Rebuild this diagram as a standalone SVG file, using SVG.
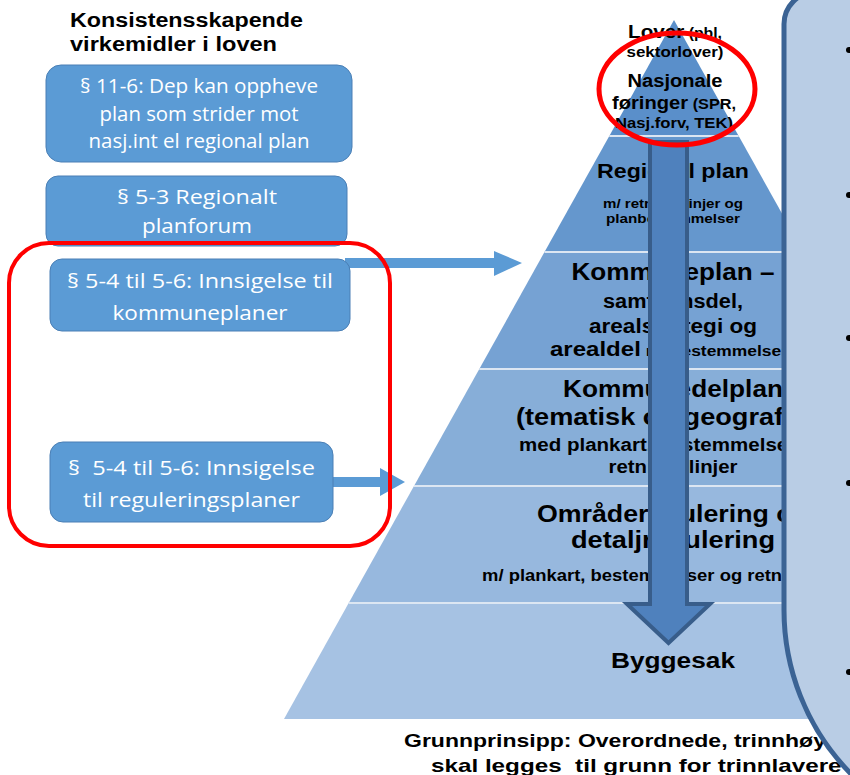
<svg xmlns="http://www.w3.org/2000/svg" width="850" height="775" viewBox="0 0 850 775">
<style>
.pt{font-family:"Liberation Sans",Arial,sans-serif;font-weight:bold;fill:#000;text-anchor:middle}
.ls{font-family:"Liberation Sans",Arial,sans-serif;font-weight:bold;fill:#000}
.bx{font-family:"Open Sans","Liberation Sans",sans-serif;fill:#fff;text-anchor:middle;font-size:20px}
.box{fill:#5b9bd5;stroke:#4a7fb5;stroke-width:1}
.sep{stroke:#dce6f2;stroke-width:2}
.arr{fill:#5b9bd5}
</style>
<rect width="850" height="775" fill="#fff"/>

<g id="pyramid">
<polygon points="674,20 738.7,136 609.3,136" fill="#5a8fca"/>
<polygon points="609.3,136 738.7,136 803.5,252 544.5,252" fill="#6597cd"/>
<polygon points="544.5,252 803.5,252 868.7,369 479.3,369" fill="#76a2d3"/>
<polygon points="479.3,369 868.7,369 934,486 414,486" fill="#87aed8"/>
<polygon points="414,486 934,486 999.3,603 348.7,603" fill="#97b8de"/>
<polygon points="348.7,603 999.3,603 1064,719 284,719" fill="#a6c2e3"/>
<line class="sep" x1="609.3" y1="136" x2="738.7" y2="136"/>
<line class="sep" x1="544.5" y1="252" x2="803.5" y2="252"/>
<line class="sep" x1="479.3" y1="369" x2="868.7" y2="369"/>
<line class="sep" x1="414" y1="486" x2="934" y2="486"/>
<line class="sep" x1="348.7" y1="603" x2="999.3" y2="603"/>
</g>

<g id="level-texts">
<text class="pt" x="675" y="38" textLength="94" lengthAdjust="spacingAndGlyphs"><tspan font-size="19">Lover</tspan><tspan font-size="14.5"> (pbl,</tspan></text>
<text class="pt" x="675" y="57" font-size="15" textLength="97" lengthAdjust="spacingAndGlyphs">sektorlover)</text>
<text class="pt" x="675" y="87" font-size="18" textLength="95" lengthAdjust="spacingAndGlyphs">Nasjonale</text>
<text class="pt" x="674" y="109" textLength="124" lengthAdjust="spacingAndGlyphs"><tspan font-size="18">føringer</tspan><tspan font-size="14.5"> (SPR,</tspan></text>
<text class="pt" x="674" y="128" font-size="15" textLength="118" lengthAdjust="spacingAndGlyphs">Nasj.forv, TEK)</text>

<text class="pt" x="673" y="178" font-size="21" textLength="152" lengthAdjust="spacingAndGlyphs">Regional plan</text>
<text class="pt" x="673" y="208" font-size="13.5" textLength="140" lengthAdjust="spacingAndGlyphs">m/ retningslinjer og</text>
<text class="pt" x="673" y="223" font-size="13.5" textLength="134" lengthAdjust="spacingAndGlyphs">planbestemmelser</text>

<text class="pt" x="673" y="280" font-size="23" textLength="203" lengthAdjust="spacingAndGlyphs">Kommuneplan –</text>
<text class="pt" x="673" y="308" font-size="20" textLength="140" lengthAdjust="spacingAndGlyphs">samfunnsdel,</text>
<text class="pt" x="673" y="333" font-size="20" textLength="168" lengthAdjust="spacingAndGlyphs">arealstrategi og</text>
<text class="ls" x="550" y="356" textLength="238" lengthAdjust="spacingAndGlyphs"><tspan font-size="20">arealdel</tspan><tspan font-size="14.5"> m/ bestemmelser</tspan></text>

<text class="pt" x="673" y="397" font-size="23" textLength="220" lengthAdjust="spacingAndGlyphs">Kommunedelplan</text>
<text class="pt" x="673" y="425" font-size="23" textLength="314" lengthAdjust="spacingAndGlyphs">(tematisk og geografisk)</text>
<text class="pt" x="673" y="451" font-size="17.5" textLength="308" lengthAdjust="spacingAndGlyphs">med plankart, bestemmelser og</text>
<text class="pt" x="673" y="473" font-size="17.5" textLength="129" lengthAdjust="spacingAndGlyphs">retningslinjer</text>

<text class="pt" x="673" y="522" font-size="23.5" textLength="272" lengthAdjust="spacingAndGlyphs">Områderegulering og</text>
<text class="pt" x="673" y="548" font-size="23.5" textLength="204" lengthAdjust="spacingAndGlyphs">detaljregulering</text>
<text class="pt" x="673" y="581" font-size="16" textLength="382" lengthAdjust="spacingAndGlyphs">m/ plankart, bestemmelser og retningslinjer</text>

<text class="pt" x="673" y="668" font-size="22" textLength="124" lengthAdjust="spacingAndGlyphs">Byggesak</text>
</g>

<g id="down-arrow">
<path d="M650,142 L687,142 L687,604 L710,604 L668.5,643 L627,604 L650,604 Z" fill="#4f81bd" stroke="#385d8a" stroke-width="4" stroke-linejoin="miter"/>
</g>

<g id="nasjonale-highlight">
<ellipse cx="677" cy="89" rx="78" ry="56" fill="none" stroke="#ff0000" stroke-width="5"/>
</g>

<g id="footer">
<text class="ls" x="404" y="747" font-size="19" textLength="532" lengthAdjust="spacingAndGlyphs">Grunnprinsipp: Overordnede, trinnhøyere planer</text>
<text class="ls" x="431" y="772" font-size="19" textLength="490" lengthAdjust="spacingAndGlyphs" xml:space="preserve">skal legges  til grunn for trinnlavere planer</text>
</g>

<g id="side-panel">
<path d="M870,-8 L816,-8 A32,32 0 0 0 784,24 L784,610 A234,234 0 0 0 1018,844 L870,844 Z" fill="#b9cde5" stroke="#3b6394" stroke-width="5"/>
<circle cx="849" cy="50" r="3" fill="#000"/>
<circle cx="849" cy="195" r="3" fill="#000"/>
<circle cx="849" cy="338" r="3" fill="#000"/>
<circle cx="849" cy="483" r="3" fill="#000"/>
<circle cx="849" cy="672" r="3" fill="#000"/>
</g>

<g id="title">
<text class="ls" x="70" y="27" font-size="20" textLength="233" lengthAdjust="spacingAndGlyphs">Konsistensskapende</text>
<text class="ls" x="70" y="51" font-size="20" textLength="207" lengthAdjust="spacingAndGlyphs">virkemidler i loven</text>
</g>

<g id="connectors">
<rect class="arr" x="345" y="258" width="151" height="10"/>
<polygon class="arr" points="494,251 522,263 494,276"/>
<rect class="arr" x="330" y="477" width="51" height="10"/>
<polygon class="arr" points="380,468 405,482 380,496"/>
</g>

<g id="box-11-6">
<rect class="box" x="46" y="65" width="306" height="97" rx="15"/>
<text class="bx" x="199" y="93" textLength="238" lengthAdjust="spacingAndGlyphs">§ 11-6: Dep kan oppheve</text>
<text class="bx" x="199" y="121" textLength="199" lengthAdjust="spacingAndGlyphs">plan som strider mot</text>
<text class="bx" x="199" y="148" textLength="221" lengthAdjust="spacingAndGlyphs">nasj.int el regional plan</text>
</g>

<g id="box-5-3">
<rect class="box" x="46" y="176" width="301" height="70" rx="12"/>
<text class="bx" x="197" y="204" textLength="160" lengthAdjust="spacingAndGlyphs">§ 5-3 Regionalt</text>
<text class="bx" x="197" y="233" textLength="110" lengthAdjust="spacingAndGlyphs">planforum</text>
</g>

<g id="box-kommuneplaner">
<rect class="box" x="50" y="259" width="300" height="72" rx="12"/>
<text class="bx" x="200" y="288" textLength="266" lengthAdjust="spacingAndGlyphs">§ 5-4 til 5-6: Innsigelse til</text>
<text class="bx" x="200" y="320" textLength="175" lengthAdjust="spacingAndGlyphs">kommuneplaner</text>
</g>

<g id="box-reguleringsplaner">
<rect class="box" x="50" y="442" width="283" height="80" rx="13"/>
<text class="bx" x="191.5" y="475" textLength="247" lengthAdjust="spacingAndGlyphs" xml:space="preserve">§  5-4 til 5-6: Innsigelse</text>
<text class="bx" x="191.5" y="507" textLength="217" lengthAdjust="spacingAndGlyphs">til reguleringsplaner</text>
</g>

<g id="innsigelse-highlight">
<rect x="9" y="243" width="381" height="303" rx="40" fill="none" stroke="#ff0000" stroke-width="4"/>
</g>
</svg>
